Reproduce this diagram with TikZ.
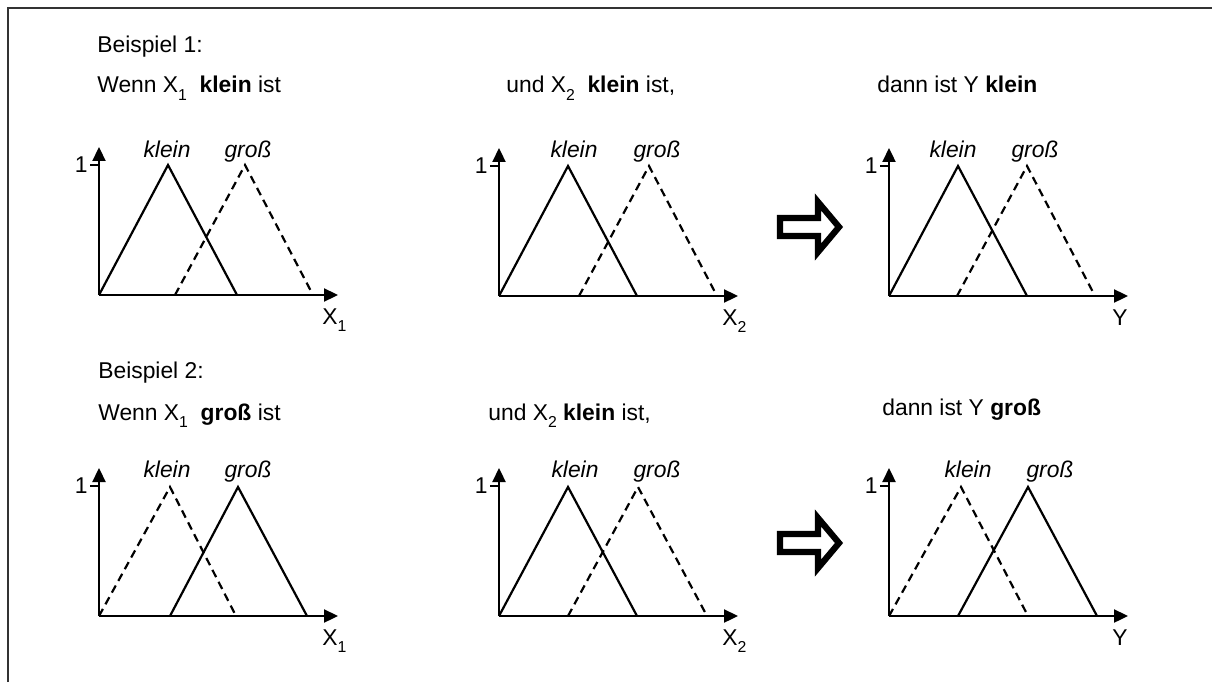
\documentclass[tikz,border=0pt]{standalone}
\usepackage{fontspec}
\setmainfont{Liberation Sans}
\usetikzlibrary{arrows.meta}

\newcommand{\tief}[1]{\raisebox{-4pt}{\fontsize{9}{9}\selectfont #1}}

\begin{document}
\begin{tikzpicture}[x=0.02cm, y=-0.02cm,
    every node/.style={font=\fontsize{13}{15}\selectfont, inner sep=0pt},
    axis/.style={line width=1.3pt, -{Triangle[length=0.28cm, width=0.26cm]}},
    mfsolid/.style={line width=1.25pt, line join=miter},
    mfdash/.style={line width=1.25pt, dash pattern=on 4.6pt off 3pt},
    bigarrow/.style={line width=0.125cm, line join=miter}]
  \useasboundingbox (0,0) rectangle (1212,682);
  \draw[line width=1.7pt, black!80] (8,682) -- (8,8) -- (1212,8);

  % headings
  \node[anchor=base west] (bsp1) at (97,53) {Beispiel 1:};
  \node[anchor=base west] (wenn1) at (97,93) {Wenn X\tief{1}\ \ \textbf{klein} ist};
  \node[anchor=base west] (und1) at (506,93) {und X\tief{2}\ \ \textbf{klein} ist,};
  \node[anchor=base west] (dann1) at (877,93) {dann ist Y \textbf{klein}};
  \node[anchor=base west] (bsp2) at (98,378) {Beispiel 2:};
  \node[anchor=base west] (wenn2) at (98,420) {Wenn X\tief{1}\ \ \textbf{groß} ist};
  \node[anchor=base west] (und2) at (488,420) {und X\tief{2} \textbf{klein} ist,};
  \node[anchor=base west] (dann2) at (882,415) {dann ist Y \textbf{groß}};

  % axes
  \foreach \ox/\oy/\lab/\n in {99/295/X\tief{1}/a, 499/296/X\tief{2}/b, 889/296/Y/c,
                              99/616/X\tief{1}/d, 499/616/X\tief{2}/e, 889/616/Y/f} {
    \begin{scope}[shift={(\ox,\oy)}]
      \draw[axis] (0,0) -- (0,-148);
      \draw[axis] (0,0) -- (239,0);
      \draw[line width=1.2pt] (-9,-130) -- (0,-130);
      \node[anchor=east] (one\n) at (-11,-130) {1};
      \node[anchor=base west] (lab\n) at (223,29) {\lab};
    \end{scope}
  }

  % Beispiel 1
  \draw[mfsolid] (99,295) -- (168,165) -- (237,295);
  \draw[mfdash] (175,295) -- (245,165) -- (313,295);
  \node[anchor=base] (kla) at (167,157) {\itshape klein};
  \node[anchor=base] (gra) at (248,157) {\itshape groß};

  \draw[mfsolid] (499,296) -- (568,166) -- (637,296);
  \draw[mfdash] (579,296) -- (649,166) -- (717,296);
  \node[anchor=base] (klb) at (574,157) {\itshape klein};
  \node[anchor=base] (grb) at (657,157) {\itshape groß};

  \draw[mfsolid] (889,296) -- (958,166) -- (1027,296);
  \draw[mfdash] (957,296) -- (1027,166) -- (1095,296);
  \node[anchor=base] (klc) at (953,157) {\itshape klein};
  \node[anchor=base] (grc) at (1035,157) {\itshape groß};

  % Beispiel 2
  \draw[mfdash] (99,616) -- (170,487) -- (236,616);
  \draw[mfsolid] (170,616) -- (238,487) -- (307,616);
  \node[anchor=base] (kld) at (167,477) {\itshape klein};
  \node[anchor=base] (grd) at (248,477) {\itshape groß};

  \draw[mfsolid] (499,616) -- (568,487) -- (637,616);
  \draw[mfdash] (568,616) -- (638,487) -- (707,616);
  \node[anchor=base] (kle) at (575,477) {\itshape klein};
  \node[anchor=base] (gre) at (657,477) {\itshape groß};

  \draw[mfdash] (889,616) -- (961,487) -- (1028,616);
  \draw[mfsolid] (958,616) -- (1028,487) -- (1097,616);
  \node[anchor=base] (klf) at (968,477) {\itshape klein};
  \node[anchor=base] (grf) at (1050,477) {\itshape groß};

  % hollow arrows
  \foreach \ay in {227,543}
    \draw[bigarrow] (780,\ay-9) -- (818,\ay-9) -- (818,\ay-25) -- (839,\ay)
      -- (818,\ay+25) -- (818,\ay+9) -- (780,\ay+9) -- cycle;
\end{tikzpicture}
\end{document}
